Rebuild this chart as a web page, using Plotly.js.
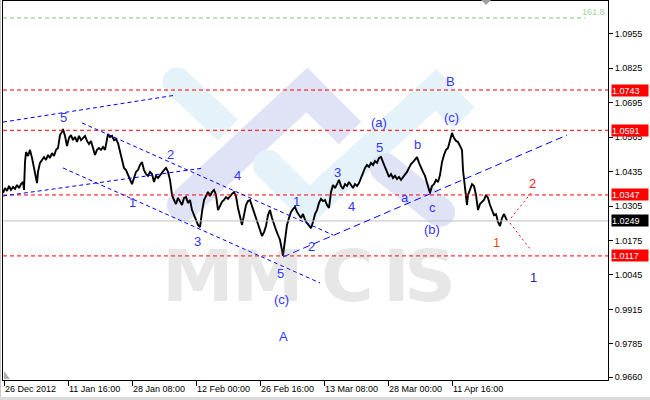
<!DOCTYPE html>
<html>
<head>
<meta charset="utf-8">
<script src="https://cdn.plot.ly/plotly-3.0.1.min.js"></script>
<style>
html,body{margin:0;padding:0;background:#fff;}
#chart{width:650px;height:400px;}
</style>
</head>
<body>
<div id="chart"></div>
<script>
// ---- price series (bar index, price) ----
const bars = [-1,1,3,5,7,9,11,13,15,17,19,20,21,22,24,26,28,30,32,33,34,36,38,40,42,44,46,48,50,52,54,56,58,59,61,63,65,67,69,71,73,75,77,79,81,83,85,87,89,91,93,95,97,99,101,103,104,106,108,110,112,114,116,118,120,122,124,126,128,130,132,134,136,138,140,142,144,146,148,150,152,154,156,158,160,162,164,166,168,170,172,174,176,178,180,182,184,186,188,190,192,194,196,198,200,202,204,206,208,210,212,214,216,218,220,222,224,226,228,230,232,234,236,238,240,242,244,246,248,250,252,254,256,258,260,262,264,266,268,270,272,274,276,278,279,281,283,285,287,289,291,293,295,297,299,301,303,305,307,309,311,313,315,317,319,321,323,325,327,329,331,333,335,337,339,341,343,345,347,349,351,353,355,357,359,361,363,365,367,369,371,373,375,377,379,381,383,385,387,389,391,393,395,397,399,401,403,405,407,409,411,413,415,417,419,421,423,425,426,428,430,432,434,436,438,440,442,444,446,448,450,452,454,456,458,459,461,463,464,466,468,470,472,474,476,478,480,482,484,486,488,490,492,494,496,498,500,502,503];
const prices = [1.0354,1.0373,1.0362,1.0381,1.0366,1.0377,1.0370,1.0385,1.0373,1.0388,1.0396,1.0366,1.0471,1.0509,1.0494,1.0517,1.0487,1.0441,1.0411,1.0392,1.0434,1.0468,1.0479,1.0490,1.0479,1.0498,1.0487,1.0505,1.0494,1.0517,1.0524,1.0573,1.0585,1.0596,1.0570,1.0532,1.0562,1.0573,1.0554,1.0566,1.0547,1.0570,1.0554,1.0562,1.0570,1.0551,1.0539,1.0551,1.0528,1.0498,1.0517,1.0524,1.0517,1.0528,1.0517,1.0562,1.0577,1.0566,1.0570,1.0554,1.0558,1.0543,1.0509,1.0471,1.0449,1.0441,1.0422,1.0404,1.0388,1.0411,1.0434,1.0441,1.0460,1.0471,1.0441,1.0426,1.0419,1.0434,1.0426,1.0396,1.0419,1.0411,1.0422,1.0434,1.0441,1.0449,1.0434,1.0404,1.0347,1.0328,1.0313,1.0336,1.0321,1.0309,1.0336,1.0339,1.0317,1.0328,1.0290,1.0268,1.0253,1.0234,1.0226,1.0283,1.0328,1.0343,1.0358,1.0343,1.0358,1.0366,1.0347,1.0290,1.0309,1.0321,1.0328,1.0339,1.0332,1.0343,1.0351,1.0358,1.0343,1.0298,1.0260,1.0234,1.0271,1.0309,1.0324,1.0328,1.0305,1.0283,1.0260,1.0234,1.0215,1.0192,1.0207,1.0230,1.0271,1.0290,1.0260,1.0234,1.0215,1.0196,1.0177,1.0139,1.0117,1.0177,1.0234,1.0260,1.0283,1.0294,1.0302,1.0283,1.0271,1.0260,1.0275,1.0253,1.0241,1.0230,1.0222,1.0245,1.0275,1.0290,1.0317,1.0332,1.0324,1.0328,1.0309,1.0298,1.0358,1.0385,1.0373,1.0388,1.0404,1.0381,1.0370,1.0388,1.0381,1.0396,1.0385,1.0373,1.0388,1.0381,1.0392,1.0411,1.0434,1.0449,1.0460,1.0453,1.0468,1.0460,1.0475,1.0468,1.0487,1.0490,1.0471,1.0449,1.0434,1.0415,1.0426,1.0411,1.0419,1.0407,1.0415,1.0404,1.0415,1.0422,1.0434,1.0449,1.0464,1.0471,1.0479,1.0490,1.0468,1.0449,1.0434,1.0419,1.0396,1.0366,1.0354,1.0381,1.0388,1.0404,1.0396,1.0422,1.0471,1.0498,1.0517,1.0524,1.0554,1.0581,1.0562,1.0551,1.0547,1.0532,1.0517,1.0441,1.0385,1.0309,1.0347,1.0366,1.0388,1.0381,1.0347,1.0290,1.0313,1.0321,1.0328,1.0347,1.0336,1.0309,1.0290,1.0271,1.0275,1.0245,1.0230,1.0260,1.0275,1.0260,1.0250];

// ---- axes ----
const xTickBars = [0,64,128,192,256,320,384,448];
const xTickText = ['26 Dec 2012','11 Jan 16:00','28 Jan 08:00','12 Feb 00:00','26 Feb 16:00','13 Mar 08:00','28 Mar 00:00','11 Apr 16:00'];
const yTickVals = [1.0955,1.0825,1.0695,1.0565,1.0435,1.0305,1.0175,1.0045,0.9915,0.9785,0.9660];
const yTickText = ['1.0955','1.0825','1.0695','1.0565','1.0435','1.0305','1.0175','1.0045','0.9915','0.9785','0.9660'];

// ---- horizontal levels ----
const redLevels = [1.0743,1.0591,1.0347,1.0117];
const redLevelText = ['1.0743','1.0591','1.0347','1.0117'];
const currentPrice = 1.0249;
const currentText = '1.0249';
const fibLevel = 1.1015;
const fibText = '161.8';

// ---- blue trend lines (bar, price) ----
const trendBar0 = [-1, 78, 59, -1, 279];
const trendPx0  = [1.0622, 1.0619, 1.0449, 1.0343, 1.0113];
const trendBar1 = [172, 329, 316, 200, 563];
const trendPx1  = [1.0724, 1.0196, 1.0015, 1.0449, 1.0573];
const trendDash = ['4px,3px','4px,3px','4px,3px','4px,3px','7px,4px'];
// ---- red projection lines ----
const projBar0 = [507, 506];
const projPx0  = [1.0260, 1.0241];
const projBar1 = [527, 527];
const projPx1  = [1.0354, 1.0139];

// ---- wave labels ----
const waveText  = ['5','1','2','3','4','5','(c)','A','1','2','3','4','5','(a)','b','a','c','(b)','(c)','B','1','2','1'];
const waveBar   = [59,128,166,193,233,276,277,279,292,307,333,347,375,375,413,401,428,428,447,446,492,528,529];
const wavePrice = [1.0641,1.0317,1.0498,1.0170,1.0419,1.0049,0.9954,0.9811,1.0324,1.0154,1.0430,1.0302,1.0528,1.0619,1.0536,1.0339,1.0298,1.0215,1.0641,1.0777,1.0166,1.0392,1.0034];
const waveColor = ['#3434ff','#3434ff','#3434ff','#3434ff','#3434ff','#3434ff','#3434ff','#3434ff','#3434ff','#3434ff','#3434ff','#3434ff','#3434ff','#3434ff','#3434ff','#3434ff','#3434ff','#3434ff','#3434ff','#3434ff','#f04a14','#ff2020','#1e2a9e'];

// ---- watermark geometry helpers (pixel -> paper) ----
const PL = 3, PW = 605, PB = 380, PH = 379;
function px2p(x, y) { return [(x - PL) / PW, (PB - y) / PH]; }
function bandPath(pts, w) {
  const n = pts.length, segN = [];
  for (let i = 0; i < n - 1; i++) {
    const dx = pts[i+1][0]-pts[i][0], dy = pts[i+1][1]-pts[i][1], L = Math.hypot(dx, dy);
    segN.push([-dy/L, dx/L]);
  }
  const left = [], right = [];
  for (let i = 0; i < n; i++) {
    let nx, ny;
    if (i === 0) { [nx, ny] = segN[0]; }
    else if (i === n - 1) { [nx, ny] = segN[n-2]; }
    else {
      const a = segN[i-1], b = segN[i];
      let mx = a[0]+b[0], my = a[1]+b[1]; const ml = Math.hypot(mx, my); mx /= ml; my /= ml;
      const d = mx*a[0] + my*a[1]; nx = mx/d; ny = my/d;
    }
    left.push([pts[i][0]+nx*w, pts[i][1]+ny*w]);
    right.push([pts[i][0]-nx*w, pts[i][1]-ny*w]);
  }
  const all = left.concat(right.reverse()).map(p => px2p(p[0], p[1]));
  return 'M' + all.map(p => p[0].toFixed(4) + ',' + p[1].toFixed(4)).join('L') + 'Z';
}
function cap(cx, cy, r, color) {
  return {type:'circle', xref:'paper', yref:'paper', layer:'below',
    x0:(cx-r-PL)/PW, x1:(cx+r-PL)/PW, y0:(PB-cy-r)/PH, y1:(PB-cy+r)/PH,
    fillcolor:color, line:{width:0}};
}
const LB = '#e5f2fa', LV = '#dfe3f5';
const logoBands = [
  {pts:[[177,82],[228,130]], w:14.5, color:LB, caps:[0]},
  {pts:[[183,205],[307,90],[350,133]], w:16, color:LV, caps:[0]},
  {pts:[[268,165],[309,206],[436,90],[464,118]], w:15, color:LB, caps:[0]},
  {pts:[[385,168],[440,212]], w:15, color:LV, caps:[0,1]}
];

const shapes = [];
logoBands.forEach(b => {
  shapes.push({type:'path', xref:'paper', yref:'paper', layer:'below', path: bandPath(b.pts, b.w), fillcolor:b.color, line:{width:0}});
  b.caps.forEach(ci => { const p = ci === 0 ? b.pts[0] : b.pts[b.pts.length-1]; shapes.push(cap(p[0], p[1], b.w, b.color)); });
});
// fib level
shapes.push({type:'line', xref:'paper', yref:'y', x0:0, x1:0.962, y0:fibLevel, y1:fibLevel, line:{color:'#7cc47c', width:1, dash:'4px,3px'}});
// current price line
shapes.push({type:'line', xref:'paper', yref:'y', x0:0, x1:1, y0:currentPrice, y1:currentPrice, line:{color:'#c0c0c0', width:1}});
// red levels
redLevels.forEach(v => shapes.push({type:'line', xref:'paper', yref:'y', x0:0, x1:1, y0:v, y1:v, line:{color:'#ff0000', width:1, dash:'4px,3px'}}));
// trend lines
trendBar0.forEach((b, i) => shapes.push({type:'line', xref:'x', yref:'y', x0:b, y0:trendPx0[i], x1:trendBar1[i], y1:trendPx1[i], line:{color:'#0000ff', width:1, dash:trendDash[i]}}));
projBar0.forEach((b, i) => shapes.push({type:'line', xref:'x', yref:'y', x0:b, y0:projPx0[i], x1:projBar1[i], y1:projPx1[i], line:{color:'#ff0000', width:1, dash:'2px,3px'}}));
// small grey markers of the terminal
shapes.push({type:'path', xref:'paper', yref:'paper', path:(function(){const a=px2p(481,0),b=px2p(491,0),c=px2p(486,5);return 'M'+a.join(',')+'L'+b.join(',')+'L'+c.join(',')+'Z';})(), fillcolor:'#a0a0a0', line:{width:0}});
shapes.push({type:'path', xref:'paper', yref:'paper', path:(function(){const a=px2p(4,371),b=px2p(4,379),c=px2p(10,379);return 'M'+a.join(',')+'L'+b.join(',')+'L'+c.join(',')+'Z';})(), fillcolor:'#b0b0b0', line:{width:0}});
// outer frame bits
shapes.push({type:'rect', xref:'paper', yref:'paper', x0:(0-PL)/PW, x1:(1-PL)/PW, y0:(PB-400)/PH, y1:(PB-0)/PH, fillcolor:'#c8c8c8', line:{width:0}});
shapes.push({type:'rect', xref:'paper', yref:'paper', x0:(0-PL)/PW, x1:(650-PL)/PW, y0:(PB-400)/PH, y1:(PB-397)/PH, fillcolor:'#dcdcdc', line:{width:0}});

// ---- annotations ----
const annotations = [];
const mmLetters = ['M','M','C','I','S'];
const mmX = [198, 268, 347, 396, 430];
mmLetters.forEach((t, i) => {
  const p = px2p(mmX[i], 276);
  annotations.push({text:t, xref:'paper', yref:'paper', x:p[0], y:p[1], xanchor:'center', yanchor:'middle', showarrow:false,
    font:{family:'DejaVu Sans', size:72, color:'rgba(128,128,128,0.19)', weight:'bold'}});
});
waveText.forEach((t, i) => annotations.push({text:t, x:waveBar[i], y:wavePrice[i], xref:'x', yref:'y', showarrow:false,
  xanchor:'center', yanchor:'middle', font:{family:'Liberation Sans, Arial, sans-serif', size:13, color:waveColor[i]}}));
redLevels.forEach((v, i) => annotations.push({text:redLevelText[i], xref:'paper', yref:'y', x:1, y:v, xanchor:'left', yanchor:'middle', xshift:3,
  showarrow:false, bgcolor:'#ff0000', borderpad:0, width:36, height:11, align:'left', font:{family:'Liberation Sans, Arial, sans-serif', size:9, color:'#ffffff'}}));
annotations.push({text:currentText, xref:'paper', yref:'y', x:1, y:currentPrice, xanchor:'left', yanchor:'middle', xshift:3,
  showarrow:false, bgcolor:'#000000', borderpad:0, width:36, height:11, align:'left', font:{family:'Liberation Sans, Arial, sans-serif', size:9, color:'#ffffff'}});
annotations.push({text:fibText, xref:'paper', yref:'y', x:1, y:fibLevel, xanchor:'right', yanchor:'bottom', xshift:-1, yshift:-1,
  showarrow:false, font:{family:'Liberation Sans, Arial, sans-serif', size:9, color:'#a3d3a3'}});

const trace = {x:bars, y:prices, type:'scatter', mode:'lines', line:{color:'#000000', width:1.9}, hoverinfo:'skip'};

const tickFont = {family:'Liberation Sans, Arial, sans-serif', size:9, color:'#000000'};
const layout = {
  width:650, height:400,
  margin:{l:PL, r:650-PL-PW, t:1, b:20, pad:0},
  paper_bgcolor:'#ffffff', plot_bgcolor:'#ffffff',
  showlegend:false,
  xaxis:{type:'linear', range:[-1, 604], tickvals:xTickBars, ticktext:xTickText, ticks:'outside', ticklen:5, tickcolor:'#000',
    ticklabelposition:'outside right', tickfont:tickFont, showline:true, mirror:true, linecolor:'#000', linewidth:1,
    showgrid:false, zeroline:false, fixedrange:true},
  yaxis:{type:'linear', side:'right', range:[0.96487, 1.1079], tickvals:yTickVals, ticktext:yTickText, ticks:'outside', ticklen:4, tickcolor:'#000',
    tickfont:tickFont, showline:true, mirror:true, linecolor:'#000', linewidth:1, showgrid:false, zeroline:false, fixedrange:true},
  shapes:shapes,
  annotations:annotations
};
Plotly.newPlot('chart', [trace], layout, {displayModeBar:false, staticPlot:true});
</script>
</body>
</html>
